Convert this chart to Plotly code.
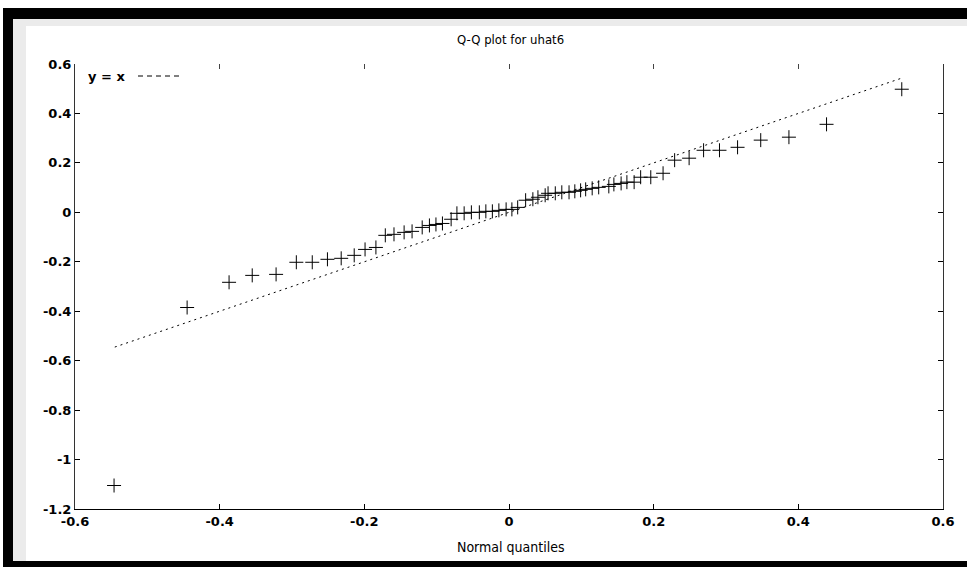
import plotly.graph_objects as go

# Normal quantiles (x) and sorted residual quantiles (y)
normal_q = [-0.546, -0.445, -0.387, -0.355, -0.322, -0.294, -0.272, -0.251, -0.232, -0.214,
            -0.199, -0.184, -0.171, -0.159, -0.145, -0.134, -0.120, -0.110, -0.101, -0.092,
            -0.080, -0.072, -0.062, -0.052, -0.041, -0.032, -0.023, -0.014, -0.004, 0.004,
            0.012, 0.023, 0.033, 0.040, 0.050, 0.054, 0.064, 0.073, 0.083, 0.091,
            0.099, 0.106, 0.115, 0.124, 0.138, 0.145, 0.155, 0.163, 0.173, 0.182,
            0.196, 0.213, 0.229, 0.249, 0.269, 0.291, 0.316, 0.348, 0.387, 0.439, 0.543]
resid_q = [-1.105, -0.385, -0.283, -0.255, -0.251, -0.202, -0.202, -0.190, -0.186, -0.174,
           -0.150, -0.142, -0.093, -0.089, -0.081, -0.077, -0.061, -0.053, -0.049, -0.045,
           -0.028, -0.004, -0.004, 0.000, 0.000, 0.004, 0.004, 0.008, 0.012, 0.012,
           0.020, 0.049, 0.053, 0.061, 0.069, 0.077, 0.077, 0.081, 0.081, 0.085,
           0.089, 0.093, 0.097, 0.101, 0.105, 0.113, 0.117, 0.122, 0.122, 0.142,
           0.142, 0.158, 0.211, 0.219, 0.251, 0.251, 0.263, 0.292, 0.304, 0.356, 0.498]
ref_x = [-0.545, 0.545]
ref_y = [-0.545, 0.545]

x_ticks = [-0.6, -0.4, -0.2, 0, 0.2, 0.4, 0.6]
x_ticktext = ["-0.6", "-0.4", "-0.2", "0", "0.2", "0.4", "0.6"]
y_ticks = [-1.2, -1.0, -0.8, -0.6, -0.4, -0.2, 0, 0.2, 0.4, 0.6]
y_ticktext = ["-1.2", "-1", "-0.8", "-0.6", "-0.4", "-0.2", "0", "0.2", "0.4", "0.6"]

W, H = 967, 567
L, R, T, B = 75, 24, 64, 58
pw, ph = W - L - R, H - T - B

def px(xp):
    return (xp - L) / pw

def py(yp):
    return (H - B - yp) / ph

fig = go.Figure()
fig.add_trace(go.Scatter(x=ref_x, y=ref_y, mode="lines",
                         line=dict(color="black", width=1, dash="2px,4px"),
                         showlegend=False, hoverinfo="skip"))
fig.add_trace(go.Scatter(x=normal_q, y=resid_q, mode="markers",
                         marker=dict(symbol="cross-thin", size=10,
                                     line=dict(color="black", width=1), color="black"),
                         showlegend=False))
# invisible trace to activate the top tick axis
fig.add_trace(go.Scatter(x=[0], y=[0], xaxis="x2", mode="markers",
                         marker=dict(opacity=0), showlegend=False, hoverinfo="skip"))

tick_font = dict(family="DejaVu Sans", size=13, color="black", weight="bold")

fig.update_layout(
    width=W, height=H,
    margin=dict(l=L, r=R, t=T, b=B, autoexpand=False),
    paper_bgcolor="white", plot_bgcolor="white",
    showlegend=False,
    xaxis=dict(range=[-0.6, 0.6], tickvals=x_ticks, ticktext=x_ticktext,
               showgrid=False, zeroline=False, showline=True, linecolor="black",
               linewidth=1, ticks="inside", ticklen=5, tickcolor="black",
               tickfont=tick_font, mirror=False),
    xaxis2=dict(range=[-0.6, 0.6], tickvals=x_ticks, overlaying="x", side="top",
                showgrid=False, zeroline=False, showline=False, ticks="inside",
                ticklen=5, tickcolor="#444", showticklabels=False, anchor="y"),
    yaxis=dict(range=[-1.2, 0.6], tickvals=y_ticks, ticktext=y_ticktext,
               showgrid=False, zeroline=False, showline=True, linecolor="#333",
               linewidth=1, ticks="inside", ticklen=5, tickcolor="black",
               tickfont=tick_font, mirror="ticks"),
    font=dict(family="DejaVu Sans", color="black"),
)

# title
fig.add_annotation(text="Q-Q plot for uhat6", xref="paper", yref="paper",
                   x=px(510), y=py(40), showarrow=False,
                   font=dict(family="DejaVu Sans Condensed", size=13, color="black"),
                   xanchor="center", yanchor="middle")
# x axis title
fig.add_annotation(text="Normal quantiles", xref="paper", yref="paper",
                   x=px(510), y=py(547), showarrow=False,
                   font=dict(family="DejaVu Sans Condensed", size=14, color="black"),
                   xanchor="center", yanchor="middle")
# key
fig.add_annotation(text="y = x", xref="paper", yref="paper",
                   x=px(86), y=py(76), showarrow=False,
                   font=dict(family="DejaVu Sans", size=13, color="black", weight="bold"),
                   xanchor="left", yanchor="middle")
fig.add_shape(type="line", xref="paper", yref="paper",
              x0=px(138), x1=px(180), y0=py(76), y1=py(76),
              line=dict(color="black", width=1, dash="5px,4px"))

# frame: thick black border on top, left, bottom with soft grey shading
fig.add_shape(type="rect", xref="paper", yref="paper", layer="above",
              x0=px(12), x1=px(26), y0=py(567), y1=py(18),
              fillcolor="rgba(0,0,0,0.08)", line=dict(width=0))
fig.add_shape(type="rect", xref="paper", yref="paper", layer="above",
              x0=px(26), x1=px(967), y0=py(18), y1=py(26),
              fillcolor="rgba(0,0,0,0.08)", line=dict(width=0))
fig.add_shape(type="rect", xref="paper", yref="paper", layer="above",
              x0=px(3), x1=px(13), y0=py(567), y1=py(8),
              fillcolor="black", line=dict(width=0))
fig.add_shape(type="rect", xref="paper", yref="paper", layer="above",
              x0=px(3), x1=px(967), y0=py(19), y1=py(8),
              fillcolor="black", line=dict(width=0))
fig.add_shape(type="rect", xref="paper", yref="paper", layer="above",
              x0=px(3), x1=px(967), y0=py(567), y1=py(561),
              fillcolor="black", line=dict(width=0))

fig.write_html("out.html", config={"displayModeBar": False},
               post_script="document.body.style.margin='0';")
